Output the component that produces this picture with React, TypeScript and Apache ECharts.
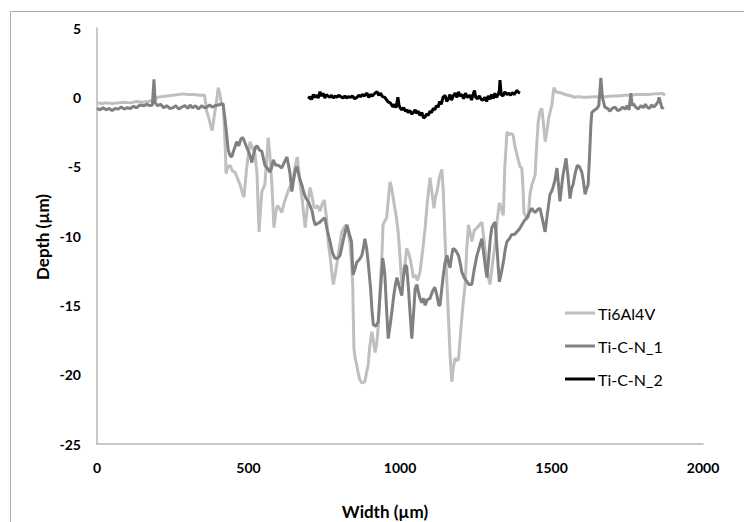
import React, { useEffect, useRef } from "react";
import * as echarts from "echarts";

const xTicks = [0, 500, 1000, 1500, 2000];
const yTicks = [-25, -20, -15, -10, -5, 0, 5];
const seriesNames = ["Ti6Al4V", "Ti-C-N_1", "Ti-C-N_2"];
const seriesColors = ["#BFBFBF", "#808080", "#000000"];

const ti6al4v: [number, number][] = [
  [0,-0.4],[15,-0.45],[30,-0.4],[50,-0.45],[70,-0.4],[90,-0.35],[110,-0.4],[130,-0.3],[150,-0.35],[170,-0.3],[190,-0.15],[200,0.0],[215,0.05],[230,0.1],[250,0.15],[270,0.2],[285,0.25],[300,0.2],[320,0.2],[340,0.15],[355,0.15],[362,-1.0],[368,-1.4],[375,-2.0],[380,-2.4],[388,-1.2],[395,-0.2],[400,0.7],[405,0.3],[410,-0.4],[417,-0.6],[423,-3.5],[426,-5.5],[432,-5.0],[439,-4.9],[447,-5.3],[455,-5.4],[463,-5.8],[472,-6.3],[480,-6.9],[485,-7.2],[490,-6.0],[494,-5.1],[500,-4.0],[505,-3.2],[512,-3.6],[521,-4.0],[528,-5.5],[532,-8.0],[535,-9.7],[540,-8.0],[544,-6.8],[550,-6.5],[554,-6.3],[560,-4.5],[565,-2.9],[570,-4.0],[577,-6.2],[581,-8.0],[584,-9.4],[590,-8.3],[595,-7.8],[602,-8.0],[610,-8.3],[618,-7.6],[627,-7.0],[635,-6.5],[643,-6.3],[652,-5.2],[661,-4.3],[667,-5.5],[672,-6.5],[677,-7.3],[683,-8.6],[687,-9.4],[695,-7.8],[703,-6.5],[710,-7.2],[715,-7.8],[720,-8.0],[728,-7.8],[736,-8.2],[743,-7.7],[750,-7.4],[757,-8.6],[763,-10.4],[770,-11.6],[775,-12.6],[780,-13.5],[786,-12.8],[791,-12.1],[800,-10.8],[808,-9.7],[815,-9.4],[822,-9.2],[830,-9.8],[835,-10.6],[840,-12.0],[844,-13.5],[846,-16.0],[848,-18.1],[852,-18.8],[857,-19.3],[863,-20.0],[868,-20.4],[875,-20.6],[884,-20.5],[890,-19.8],[895,-19.3],[900,-18.0],[907,-16.9],[912,-17.5],[918,-18.4],[923,-17.8],[928,-16.6],[934,-14.0],[940,-11.6],[944,-9.2],[950,-8.9],[956,-8.7],[962,-7.2],[967,-6.1],[972,-6.5],[980,-7.6],[987,-8.5],[994,-9.7],[1000,-11.5],[1006,-13.5],[1011,-12.5],[1016,-12.1],[1022,-10.9],[1028,-11.2],[1033,-11.6],[1040,-12.4],[1044,-13.0],[1050,-12.8],[1058,-13.2],[1066,-12.6],[1075,-11.0],[1083,-9.4],[1090,-7.6],[1099,-5.8],[1105,-6.8],[1112,-8.0],[1117,-7.2],[1122,-6.8],[1130,-5.8],[1138,-5.2],[1143,-6.8],[1148,-9.9],[1154,-13.0],[1160,-15.9],[1165,-18.5],[1171,-20.5],[1176,-19.5],[1182,-18.8],[1188,-19.0],[1193,-18.9],[1198,-17.5],[1204,-15.9],[1210,-14.5],[1215,-13.5],[1220,-11.0],[1226,-9.2],[1232,-9.8],[1237,-10.4],[1245,-9.6],[1254,-9.4],[1262,-9.2],[1270,-9.0],[1277,-10.2],[1284,-11.6],[1290,-12.8],[1297,-13.5],[1305,-12.0],[1314,-10.6],[1320,-9.0],[1328,-7.6],[1334,-8.0],[1341,-8.5],[1346,-5.0],[1353,-2.5],[1360,-2.7],[1367,-2.6],[1373,-2.7],[1380,-3.6],[1389,-4.4],[1396,-5.0],[1402,-5.1],[1406,-6.5],[1409,-8.3],[1415,-8.6],[1423,-8.7],[1429,-7.0],[1435,-6.3],[1440,-6.0],[1446,-5.6],[1451,-3.5],[1456,-1.8],[1462,-1.0],[1468,-0.8],[1474,-2.0],[1479,-3.2],[1485,-2.4],[1490,-1.6],[1496,-1.0],[1501,-0.6],[1505,0.2],[1508,0.7],[1515,0.4],[1525,0.35],[1535,0.3],[1545,0.2],[1555,0.15],[1565,0.1],[1575,0.0],[1590,0.05],[1605,0.0],[1620,0.0],[1640,0.05],[1660,0.05],[1680,0.05],[1700,0.1],[1720,0.1],[1740,0.15],[1760,0.15],[1780,0.2],[1800,0.2],[1820,0.2],[1840,0.25],[1855,0.25],[1865,0.3],[1875,0.15]
];

const ticn1: [number, number][] = [
  [0,-0.8],[10,-0.9],[20,-0.75],[30,-0.9],[40,-0.8],[50,-0.95],[60,-0.8],[70,-0.85],[80,-0.7],[90,-0.85],[100,-0.75],[110,-0.8],[120,-0.65],[130,-0.75],[142,-0.55],[155,-0.6],[165,-0.5],[175,-0.6],[183,-0.55],[188,1.3],[192,-0.4],[200,-0.6],[210,-0.5],[220,-0.75],[230,-0.6],[240,-0.8],[251,-0.75],[260,-0.6],[270,-0.85],[280,-0.7],[290,-0.6],[300,-0.8],[307,-0.55],[315,-0.75],[325,-0.6],[335,-0.85],[345,-0.6],[355,-0.75],[363,-0.7],[372,-0.55],[380,-0.7],[390,-0.6],[400,-0.55],[410,-0.5],[416,-0.45],[422,-1.5],[428,-2.7],[433,-3.8],[439,-4.2],[445,-4.3],[450,-3.9],[455,-3.6],[461,-3.2],[468,-3.5],[475,-3.0],[481,-2.9],[487,-3.2],[494,-3.6],[500,-3.9],[505,-4.2],[511,-4.7],[518,-4.0],[523,-3.6],[528,-3.5],[536,-3.8],[544,-3.9],[549,-4.4],[554,-4.9],[562,-5.1],[571,-5.4],[577,-5.0],[582,-4.5],[590,-4.9],[598,-4.9],[605,-5.0],[609,-5.1],[618,-4.7],[627,-4.3],[633,-5.0],[637,-5.5],[643,-6.8],[650,-5.8],[655,-5.2],[660,-5.0],[668,-5.8],[676,-6.3],[683,-6.9],[690,-7.3],[697,-7.5],[703,-7.8],[710,-8.2],[715,-8.8],[720,-9.2],[728,-9.1],[736,-9.0],[745,-8.8],[752,-8.7],[760,-9.6],[769,-10.4],[777,-11.2],[785,-11.6],[794,-11.6],[802,-11.4],[808,-10.8],[812,-10.4],[818,-9.8],[825,-9.2],[832,-9.8],[840,-10.4],[845,-12.8],[851,-12.4],[857,-11.9],[866,-11.7],[874,-11.4],[880,-10.8],[884,-10.2],[890,-10.9],[895,-11.9],[903,-13.8],[908,-15.5],[912,-16.4],[920,-16.5],[928,-16.2],[935,-14.0],[943,-11.6],[947,-12.2],[950,-12.8],[955,-15.0],[961,-17.4],[967,-16.5],[973,-15.5],[980,-14.2],[985,-13.5],[990,-13.0],[997,-13.6],[1002,-14.0],[1006,-14.3],[1011,-13.0],[1017,-12.1],[1022,-12.2],[1028,-13.8],[1033,-15.5],[1039,-17.4],[1045,-15.5],[1050,-13.8],[1056,-13.5],[1060,-14.0],[1066,-14.5],[1072,-14.8],[1078,-14.5],[1083,-15.0],[1090,-14.6],[1099,-14.5],[1107,-14.0],[1115,-13.7],[1122,-14.3],[1128,-15.0],[1132,-15.0],[1137,-14.0],[1142,-13.0],[1148,-12.0],[1155,-11.4],[1160,-11.9],[1165,-12.3],[1170,-11.5],[1175,-10.9],[1182,-11.0],[1188,-11.2],[1193,-11.4],[1199,-12.0],[1204,-12.6],[1212,-13.0],[1221,-13.3],[1228,-13.5],[1237,-13.5],[1245,-12.4],[1254,-11.4],[1262,-10.8],[1270,-10.2],[1277,-11.4],[1283,-12.4],[1287,-13.0],[1293,-11.5],[1298,-10.2],[1303,-9.4],[1308,-9.2],[1314,-9.0],[1320,-10.8],[1325,-12.5],[1328,-13.3],[1335,-12.6],[1341,-11.9],[1347,-11.0],[1353,-10.4],[1361,-10.2],[1369,-9.9],[1377,-9.9],[1386,-9.7],[1394,-9.5],[1402,-9.2],[1410,-8.9],[1419,-8.7],[1427,-8.3],[1435,-8.0],[1441,-8.2],[1446,-8.3],[1454,-8.1],[1462,-8.0],[1470,-8.8],[1479,-9.7],[1487,-8.3],[1495,-7.0],[1500,-6.8],[1505,-6.5],[1511,-6.0],[1518,-5.1],[1523,-6.3],[1528,-7.5],[1533,-6.5],[1538,-5.6],[1543,-5.0],[1548,-4.4],[1555,-5.8],[1561,-7.3],[1566,-6.6],[1571,-6.3],[1578,-5.5],[1585,-4.9],[1592,-5.0],[1600,-5.4],[1605,-6.0],[1611,-7.0],[1616,-6.6],[1621,-6.3],[1626,-4.0],[1630,-2.0],[1633,-1.1],[1638,-1.0],[1643,-0.9],[1650,-0.8],[1656,-0.6],[1663,1.4],[1668,0.0],[1676,-0.7],[1685,-0.8],[1693,-1.0],[1700,-0.8],[1710,-0.7],[1718,-0.95],[1726,-0.9],[1735,-0.7],[1743,-0.85],[1750,-0.6],[1756,-0.9],[1762,0.3],[1766,-0.6],[1770,-0.45],[1778,-0.7],[1786,-0.85],[1795,-0.6],[1803,-0.75],[1810,-0.5],[1815,-0.7],[1823,-0.8],[1830,-0.55],[1838,-0.7],[1846,-0.5],[1852,-0.3],[1855,0.0],[1860,-0.4],[1865,-0.8],[1870,-0.7]
];

const ticn2: [number, number][] = [
  [697,-0.1],[703,0.05],[708,-0.15],[714,0.2],[719,0.0],[725,0.15],[730,-0.05],[736,0.4],[741,0.1],[746,0.3],[752,-0.05],[757,0.2],[762,0.1],[769,0.0],[774,0.15],[780,-0.05],[786,0.1],[792,0.0],[798,0.15],[804,0.05],[812,-0.05],[818,0.1],[824,-0.05],[830,0.05],[837,0.0],[843,0.1],[850,-0.1],[858,0.0],[864,0.15],[870,0.05],[876,0.2],[882,0.1],[891,0.3],[897,0.0],[903,0.2],[909,0.1],[915,0.25],[924,0.4],[930,0.15],[936,0.3],[942,0.05],[950,0.0],[956,-0.2],[962,-0.35],[968,-0.4],[974,-0.6],[977,-0.7],[982,-0.5],[987,-0.75],[993,0.0],[997,-0.6],[1002,-0.8],[1006,-0.9],[1012,-0.75],[1018,-1.0],[1023,-0.9],[1027,-1.1],[1033,-0.95],[1038,-1.2],[1044,-1.1],[1050,-0.9],[1055,-1.15],[1060,-1.0],[1066,-1.3],[1072,-1.1],[1078,-1.5],[1083,-1.4],[1088,-1.2],[1093,-1.3],[1099,-1.0],[1104,-1.1],[1110,-0.8],[1115,-0.9],[1120,-0.6],[1126,-0.7],[1131,-0.3],[1136,-0.5],[1142,0.0],[1149,0.15],[1154,-0.3],[1160,-0.1],[1165,0.2],[1170,-0.2],[1176,0.1],[1182,0.3],[1188,0.0],[1193,0.4],[1198,0.1],[1204,0.2],[1210,-0.1],[1216,0.3],[1222,0.0],[1231,0.15],[1236,-0.2],[1241,0.2],[1246,0.5],[1250,0.0],[1256,-0.1],[1262,0.1],[1268,-0.15],[1274,-0.2],[1280,0.0],[1286,-0.3],[1291,0.1],[1297,-0.15],[1302,0.2],[1308,-0.1],[1313,0.3],[1318,0.0],[1324,0.2],[1328,0.5],[1330,1.25],[1334,0.2],[1340,0.1],[1346,0.4],[1353,0.2],[1359,0.3],[1365,0.15],[1371,0.35],[1377,0.2],[1383,0.4],[1386,0.5],[1392,0.35],[1396,0.3]
];

const seriesData = [ti6al4v, ticn1, ticn2];

export default function App() {
  const ref = useRef<HTMLDivElement>(null);
  useEffect(() => {
    if (!ref.current) return;
    const chart = echarts.init(ref.current, null, { renderer: "svg" });
    const font = "Lato, 'Open Sans', sans-serif";
    chart.setOption({
      animation: false,
      backgroundColor: "#ffffff",
      grid: { left: 97, top: 28, right: 41, bottom: 78, containLabel: false },
      xAxis: {
        type: "value",
        min: xTicks[0],
        max: xTicks[xTicks.length - 1],
        interval: 500,
        axisLine: { show: true, onZero: false, lineStyle: { color: "#B7B7B7", width: 1.5 } },
        axisTick: { show: false },
        splitLine: { show: false },
        axisLabel: {
          color: "#000", fontWeight: "bold", fontSize: 14, fontFamily: font, margin: 16,
          formatter: (v: number) => String(v),
        },
      },
      yAxis: {
        type: "value",
        min: yTicks[0],
        max: yTicks[yTicks.length - 1],
        interval: 5,
        axisLine: { show: true, onZero: false, lineStyle: { color: "#B7B7B7", width: 1.5 } },
        axisTick: { show: false },
        splitLine: { show: false },
        axisLabel: {
          color: "#000", fontWeight: "bold", fontSize: 14, fontFamily: font, margin: 16,
          formatter: (v: number) => String(v),
        },
      },
      legend: {
        orient: "vertical",
        left: 565,
        top: 305,
        padding: 0,
        icon: "rect",
        itemWidth: 30,
        itemHeight: 3,
        itemGap: 17,
        textStyle: { fontSize: 16, lineHeight: 16, fontFamily: font, color: "#000", padding: [0, 0, 0, -2] },
        data: seriesNames,
      },
      series: seriesNames.map((name, i) => ({
        name,
        type: "line",
        data: seriesData[i],
        symbol: "none",
        showSymbol: false,
        lineStyle: { color: seriesColors[i], width: 3 },
        itemStyle: { color: seriesColors[i] },
      })),
      graphic: [
        {
          type: "rect",
          shape: { x: 10.5, y: 11.5, width: 760, height: 540 },
          style: { fill: "none", stroke: "#ADADAD", lineWidth: 1 },
          silent: true,
        },
        {
          type: "text",
          x: 385,
          y: 511,
          style: {
            text: "Width (µm)",
            fontSize: 17,
            fontWeight: "bold",
            fontFamily: font,
            fill: "#000",
            textAlign: "center",
            textVerticalAlign: "middle",
          },
        },
        {
          type: "text",
          x: 42,
          y: 237,
          rotation: Math.PI / 2,
          style: {
            text: "Depth (µm)",
            fontSize: 17,
            fontWeight: "bold",
            fontFamily: font,
            fill: "#000",
            textAlign: "center",
            textVerticalAlign: "middle",
          },
        },
      ],
    });
    return () => chart.dispose();
  }, []);
  return (
    <div
      ref={ref}
      style={{ position: "absolute", left: 0, top: 0, width: 744, height: 522 }}
    />
  );
}
